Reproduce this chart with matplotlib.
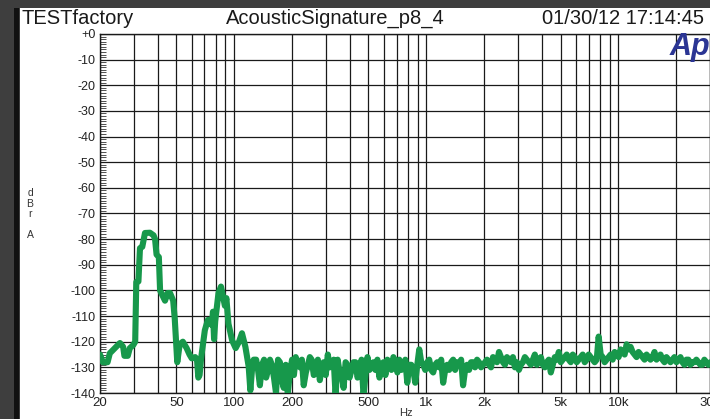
import matplotlib
matplotlib.use("Agg")
import matplotlib.pyplot as plt
import matplotlib.ticker as ticker
from matplotlib.patches import Rectangle

freq_hz = [
    20, 20.7, 21.9, 22.5, 23.9, 25.4, 26.4, 26.8, 27.9, 28.6, 29.8, 30.5,
    30.9, 31.7, 32.3, 33.2, 34.3, 36.4, 38.0, 38.7, 39.4, 40.5, 41.1, 43.6,
    45.0, 46.3, 48.1, 49.0, 50.5, 52.0, 54, 56.5, 58.5, 60.1, 62.6, 64,
    65.0, 66, 67.2, 70.3, 72.9, 76.4, 77.5, 78.5, 79.6, 82.8, 85.3, 87.5,
    89.4, 91, 93.3, 97.5, 101.7, 105.9, 109.7, 114.3, 118.9, 121.3, 124, 126.3,
    130, 133, 136, 139.5, 143, 146.5, 150, 153.5,
    157, 161, 165, 169, 173, 177, 181, 185.5,
    190, 195, 200, 204.5, 209, 214.5, 220, 225,
    230, 236, 242, 247.5, 253, 259.5, 266, 272.5,
    279, 285.5, 292, 299.5, 307, 314.5, 322, 329.5,
    337, 345.5, 354, 362.5, 371, 380, 389, 398.5,
    408, 418, 428, 438.5, 449, 460, 471, 482.5,
    494, 506, 518, 530.5, 543, 556.5, 570, 584,
    598, 612.5, 627, 642.5, 658, 674, 690, 707,
    724, 741.5, 759, 777.5, 796, 815.5, 835, 855.5,
    876, 897.5, 919, 941.5, 964, 987.5, 1011, 1035.5,
    1060, 1086, 1112, 1139.5, 1167, 1195.5, 1224, 1254,
    1284, 1315.5, 1347, 1380, 1413, 1447.5, 1482, 1518,
    1554, 1592, 1630, 1670, 1710, 1752, 1794, 1838,
    1882, 1928, 1974, 2022, 2070, 2121, 2172, 2225,
    2278, 2334, 2390, 2448, 2507, 2568, 2629, 2694,
    2758, 2825, 2893, 2964, 3035, 3108, 3183, 3260,
    3339, 3420, 3503, 3588, 3674, 3763, 3854, 3948,
    4043, 4141, 4241, 4344, 4449, 4557, 4667, 4781,
    4895, 5015, 5135, 5260, 5386, 5517, 5650, 5788,
    5927, 6071, 6217, 6368, 6522, 6680, 6841, 7007,
    7176, 7350, 7528, 7712, 7897, 8088, 8283, 8486,
    8689, 8902, 9115, 9338, 9561, 9795, 10030, 10275,
    10520, 10780, 11040, 11310, 11580, 11860, 12140, 12440,
    12740, 13050, 13360, 13690, 14020, 14360, 14700, 15060,
    15420, 15800, 16180, 16570, 16970, 17380, 17800, 18240,
    18680, 19130, 19590, 20070, 20550, 21050, 21560, 22080,
    22610, 23160, 23720, 24290, 24880, 25480, 26100, 26730,
    27380, 28040, 28720, 29420, 30130,
]
level_dbr = [
    -125, -128, -128, -124.5, -122.5, -120.5, -122, -125.5, -125.5, -122.5, -121.3, -120,
    -96.7, -96.5, -83.5, -83, -77.6, -77.5, -78.5, -80, -86, -87, -100, -104,
    -101, -101, -104, -111, -128, -121, -120, -122.5, -125, -126.5, -126, -127,
    -134, -133, -126.5, -115.5, -111.5, -113.5, -108.3, -119, -112, -101, -98.5, -102.5,
    -106, -103, -113, -119.5, -122.5, -120, -116.7, -122, -129.7, -139, -130, -127,
    -127, -131, -137, -129, -127, -134, -131, -127,
    -129, -134, -140, -127, -128, -135, -138, -129,
    -140, -132, -127, -133, -126, -129, -130, -127,
    -137, -132, -129, -126, -127, -133, -131, -127,
    -135, -130, -128, -133, -125, -130, -129, -127,
    -141, -127, -132, -133, -138, -128, -129, -134,
    -131, -128, -128, -134, -132, -127, -141, -133,
    -126, -131, -130, -128, -131, -127, -134, -131,
    -128, -133, -127, -129, -131, -126, -128, -132,
    -127, -131, -130, -127, -136, -129, -129, -131,
    -136, -129, -123, -128, -129, -131, -128, -127,
    -131, -132, -129, -128, -130, -127, -136, -131,
    -129, -131, -128, -127, -131, -128, -129, -127,
    -137, -131, -129, -131, -128, -128, -130, -127,
    -128, -130, -129, -128, -127, -129, -130, -126,
    -127, -128, -124, -126, -128, -129, -126, -127,
    -128, -126, -130, -128, -131, -129, -128, -126,
    -127, -128, -129, -127, -125, -129, -127, -126,
    -129, -130, -128, -127, -132, -129, -126, -127,
    -124, -128, -127, -126, -125, -127, -128, -125,
    -126, -128, -127, -126, -125, -128, -127, -125,
    -126, -127, -128, -127, -118, -125, -126, -128,
    -127, -126, -125, -127, -124, -125, -126, -123,
    -124, -125, -121, -123, -122, -124, -125, -126,
    -124, -125, -126, -127, -125, -126, -127, -126,
    -124, -127, -126, -125, -127, -128, -126, -127,
    -128, -127, -126, -128, -127, -126, -128, -129,
    -127, -127, -129, -128, -128, -127, -128, -129,
    -129, -127, -128, -129, -128,
]
assert len(freq_hz) == len(level_dbr)

x_ticks = [20, 50, 100, 200, 500, 1000, 2000, 5000, 10000, 30000]
x_tick_labels = ["20", "50", "100", "200", "500", "1k", "2k", "5k", "10k", "30k"]
y_ticks = list(range(0, -150, -10))
y_tick_labels = ["+0"] + [str(v) for v in y_ticks[1:]]

plt.rcParams['font.family'] = ['Liberation Sans', 'DejaVu Sans']

W, H = 710, 419
fig = plt.figure(figsize=(W / 100, H / 100), dpi=100, facecolor="#3e3e3e")
fig.add_artist(Rectangle((20 / W, 0), 1, 1 - 8 / H, transform=fig.transFigure,
                         facecolor="white", edgecolor="none", zorder=-2))
fig.add_artist(Rectangle((14 / W, 0), 5 / W, 1 - 8 / H, transform=fig.transFigure,
                         facecolor="#111111", edgecolor="none", zorder=-1))

ax = fig.add_axes([100 / W, 1 - 393 / H, 610 / W, 359 / H])
ax.set_facecolor("white")
ax.plot(freq_hz, level_dbr, color="#17984b", lw=4.4, zorder=3,
        solid_joinstyle="round", solid_capstyle="round", clip_on=True)

ax.set_xscale("log")
ax.set_xlim(20, 30000)
ax.set_ylim(-140, 0)

ax.xaxis.set_major_locator(ticker.FixedLocator(x_ticks))
ax.xaxis.set_major_formatter(ticker.FixedFormatter(x_tick_labels))
ax.xaxis.set_minor_locator(ticker.LogLocator(base=10, subs=range(2, 10)))
ax.xaxis.set_minor_formatter(ticker.NullFormatter())
ax.yaxis.set_major_locator(ticker.FixedLocator(y_ticks))
ax.yaxis.set_major_formatter(ticker.FixedFormatter(y_tick_labels))
ax.yaxis.set_minor_locator(ticker.MultipleLocator(1))

ax.grid(True, which="both", axis="x", color="#1a1a1a", lw=0.9)
ax.grid(True, which="major", axis="y", color="#1a1a1a", lw=0.9)
ax.tick_params(axis="x", which="both", length=0, pad=3, labelsize=9.5, colors="#222222")
ax.tick_params(axis="y", which="major", length=0, pad=3, labelsize=9, colors="#222222")
ax.tick_params(axis="y", which="minor", direction="in", length=4, width=0.6, color="#333333")
for sp in ax.spines.values():
    sp.set_color("#1a1a1a")
    sp.set_linewidth(1.0)

# header and labels
fig.text(22 / W, 1 - 18 / H, "TESTfactory", fontsize=14.5, va="center", color="#1a1a1a")
fig.text(226 / W, 1 - 18 / H, "AcousticSignature_p8_4", fontsize=14.5, va="center", color="#1a1a1a")
fig.text(542 / W, 1 - 18 / H, "01/30/12 17:14:45", fontsize=14.5, va="center", color="#1a1a1a")
fig.text(670 / W, 1 - 47 / H, "Ap", fontsize=22, fontweight="bold", style="italic",
         va="center", color="#2b3594", zorder=5)
fig.text(30 / W, 1 - 214 / H, "d\nB\nr\n\nA", fontsize=7.5, ha="center", va="center",
         linespacing=1.05, color="#333333")
fig.text(406 / W, 1 - 413 / H, "Hz", fontsize=8, ha="center", va="center", color="#333333")

fig.savefig("out.png", dpi=100, facecolor=fig.get_facecolor())
